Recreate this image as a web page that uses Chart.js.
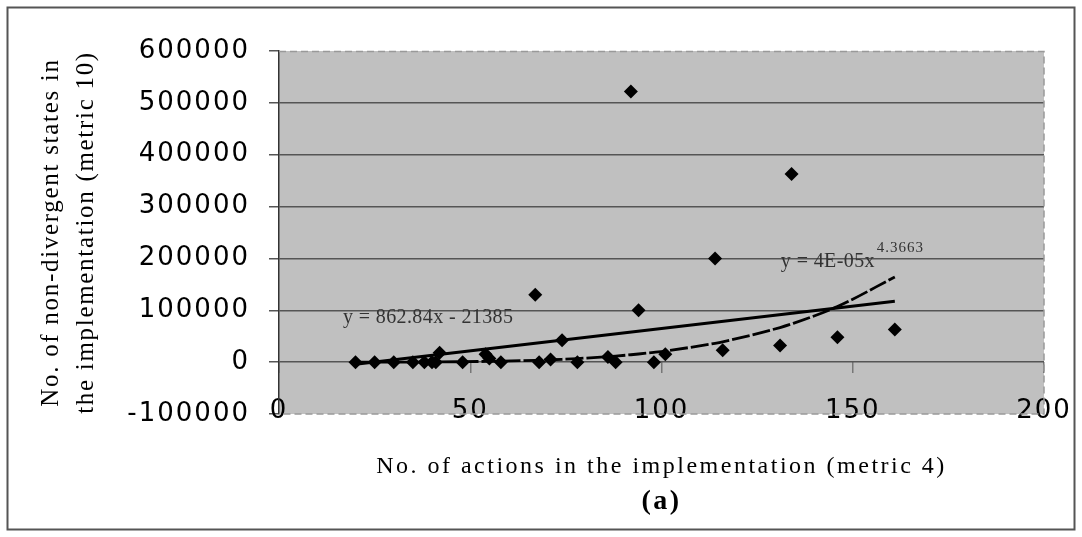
<!DOCTYPE html>
<html><head><meta charset="utf-8">
<script src="https://cdn.jsdelivr.net/npm/chart.js@4/dist/chart.umd.min.js"></script>
<style>html,body{margin:0;padding:0;background:#fff;overflow:hidden}#wrap{width:1082px;height:537px}</style>
</head><body><div id="wrap"><canvas id="c" width="1082" height="537"></canvas></div>
<script>
// ---- data ----
const actions = [20,25,30,35,38,40,41,42,48,54,55,58,67,68,71,74,78,86,88,92,94,98,101,114,116,131,134,146,161];
const states  = [0,0,0,0,0,0,0,18000,0,15000,7000,0,130000,0,5000,42000,0,10000,0,522000,100000,0,15000,200000,23000,32000,363000,48000,63000];
const xTickValues = [0,50,100,150,200];
const yTickValues = [-100000,0,100000,200000,300000,400000,500000,600000];
// trendline equations shown on the chart
const linearSlope = 862.84, linearIntercept = -21385;
const powerCoef = 3.8e-5, powerExp = 4.3663;
const linearLabel = 'y = 862.84x - 21385';
const powerLabel = 'y = 4E-05x';
const powerLabelExp = '4.3663';
const xTitle = 'No. of actions in the implementation (metric 4)';
const yTitle = ['No. of non-divergent states in', 'the implementation (metric 10)'];
const panelLabel = '(a)';

const sortedX = [...new Set(actions)].sort((a,b)=>a-b);
const linearPts = [sortedX[0], sortedX[sortedX.length-1]].map(x => ({x, y: linearSlope*x + linearIntercept}));
const powerPts = sortedX.map(x => ({x, y: powerCoef*Math.pow(x, powerExp)}));
const scatterPts = actions.map((x,i)=>({x, y: states[i]}));

// letter spacing per text element (the reference text is widely spaced)
function withSpacing(obj, name, spacing, ctx){
  if (!obj || obj['__sp_'+name]) return;
  const orig = obj[name];
  obj[name] = function(...args){
    ctx.save(); ctx.letterSpacing = spacing;
    const r = orig.apply(this, args);
    ctx.restore(); return r;
  };
  obj['__sp_'+name] = true;
}

const frame = {
  id: 'frame',
  afterLayout(chart){
    const ctx = chart.ctx;
    withSpacing(chart.scales.x, 'drawLabels', '2px', ctx);
    withSpacing(chart.scales.y, 'drawLabels', '2px', ctx);
    withSpacing(chart.scales.y, 'drawTitle', '1.7px', ctx);
    chart.boxes.forEach(b => {
      if (b.options && b.options.text === xTitle) withSpacing(b, 'draw', '2.5px', ctx);
      if (b.options && b.options.text === panelLabel) withSpacing(b, 'draw', '2.5px', ctx);
    });
  },
  beforeDraw(chart){
    const {ctx, chartArea:a} = chart;
    ctx.save();
    ctx.fillStyle = '#fff'; ctx.fillRect(0,0,chart.width,chart.height);
    ctx.fillStyle = '#c0c0c0'; ctx.fillRect(a.left, a.top, a.right-a.left, a.bottom-a.top);
    ctx.strokeStyle = '#555'; ctx.lineWidth = 2;
    ctx.strokeRect(7.5, 7.5, 1067, 522);
    ctx.restore();
  },
  beforeDatasetsDraw(chart){
    const {ctx, chartArea:a} = chart;
    ctx.save();
    ctx.strokeStyle = '#999'; ctx.lineWidth = 1.5; ctx.setLineDash([7,4]);
    ctx.beginPath();
    ctx.moveTo(a.left, a.top+0.5); ctx.lineTo(a.right, a.top+0.5);
    ctx.lineTo(a.right, a.bottom); ctx.lineTo(a.left, a.bottom);
    ctx.stroke();
    ctx.restore();
  },
  afterDatasetsDraw(chart){
    const {ctx, scales:{x, y}} = chart;
    ctx.save();
    ctx.fillStyle = '#333';
    ctx.textBaseline = 'middle';
    ctx.font = '20px "Liberation Serif"';
    ctx.letterSpacing = '0.4px';
    ctx.fillText(linearLabel, x.getPixelForValue(16.7), y.getPixelForValue(85000));
    ctx.fillText(powerLabel, x.getPixelForValue(131.2), y.getPixelForValue(193000));
    ctx.font = '15px "Liberation Serif"';
    ctx.letterSpacing = '1px';
    ctx.fillText(powerLabelExp, x.getPixelForValue(156.3), y.getPixelForValue(220000));
    ctx.restore();
  }
};

new Chart(document.getElementById('c'), {
  type: 'scatter',
  data: {
    datasets: [
      { label: 'data', data: scatterPts, pointStyle: 'rectRot', pointRadius: 7, pointHoverRadius: 7,
        backgroundColor: '#000', borderColor: '#000', borderWidth: 0 },
      { label: 'linear', type: 'line', data: linearPts, borderColor: '#000', borderWidth: 3, pointRadius: 0, fill: false },
      { label: 'power', type: 'line', data: powerPts, borderColor: '#000', borderWidth: 2.8, pointRadius: 0, fill: false,
        borderDash: [18, 3], cubicInterpolationMode: 'monotone' }
    ]
  },
  options: {
    responsive: false, animation: false, devicePixelRatio: 1,
    layout: { padding: { left: 20, right: 38, top: 51, bottom: 21.6 } },
    plugins: {
      legend: { display: false }, tooltip: { enabled: false },
      subtitle: { display: true, text: xTitle, position: 'bottom', fullSize: false, color: '#000',
        font: { family: '"Liberation Serif"', size: 24, lineHeight: 1.2 }, padding: { top: 38.6, bottom: 0 } },
      title: { display: true, text: panelLabel, position: 'bottom', fullSize: false, color: '#000',
        font: { family: '"Liberation Serif"', size: 28, weight: 'bold', lineHeight: 1.0 }, padding: { top: 6, bottom: 0 } }
    },
    scales: {
      x: {
        type: 'linear', position: { y: 0 }, min: 0, max: 200,
        afterBuildTicks: s => { s.ticks = xTickValues.map(v => ({value: v})); },
        afterFit: s => { s.paddingLeft = 0; s.paddingRight = 0; },
        ticks: { padding: 23, color: '#000', font: { family: '"DejaVu Sans"', size: 26, lineHeight: 1.2 }, maxRotation: 0,
          callback: v => String(v) },
        grid: { drawOnChartArea: false, tickLength: 11, color: '#777', lineWidth: 1.5 },
        border: { display: false }
      },
      y: {
        type: 'linear', position: 'left', min: -100000, max: 600000,
        afterBuildTicks: s => { s.ticks = yTickValues.map(v => ({value: v})); },
        afterFit: s => { s.width = 259; },
        ticks: { padding: 19, color: '#000', font: { family: '"DejaVu Sans"', size: 26, lineHeight: 1.2 },
          callback: v => String(v) },
        grid: { tickLength: 10, lineWidth: 1.5, tickColor: '#555',
          color: c => (c.tick && (c.tick.value === 600000 || c.tick.value === -100000)) ? 'rgba(0,0,0,0)' : '#555' },
        border: { display: true, color: '#333', width: 1.5 },
        title: { display: true, text: yTitle, color: '#000', padding: { top: 13.5, bottom: 0 },
          font: { family: '"Liberation Serif"', size: 25, lineHeight: 1.4 } }
      }
    }
  },
  plugins: [frame]
});
</script>
</body></html>
